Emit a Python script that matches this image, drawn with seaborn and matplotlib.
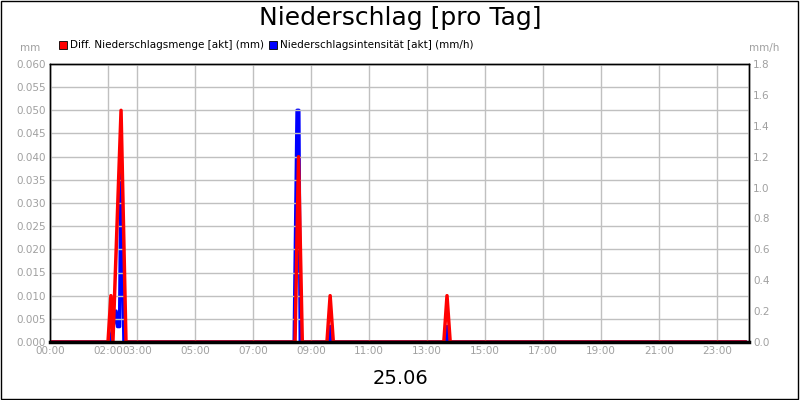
import matplotlib
matplotlib.use("Agg")
import matplotlib.pyplot as plt
import seaborn as sns
import pandas as pd
from matplotlib.patches import Rectangle

sns.set_style("white")
plt.rcParams['font.family'] = ['DejaVu Sans']
plt.rcParams['text.color'] = 'black'

# Data (time in hours of day)
red_t = [0, 2.0, 2.1, 2.17, 2.45, 2.62, 8.45, 8.57, 8.7, 9.55, 9.66, 9.77, 13.58, 13.69, 13.8, 24]
red_v = [0, 0, 0.010, 0, 0.050, 0, 0, 0.040, 0, 0, 0.010, 0, 0, 0.010, 0, 0]
blue_t = [0, 2.07, 2.28, 2.33, 2.4, 2.45, 2.55, 8.42, 8.52, 8.58, 8.63, 9.6, 9.66, 9.72, 13.63, 13.69, 13.75, 24]
blue_v = [0, 0, 0.2, 0.1, 0.1, 1.2, 0, 0, 1.5, 1.5, 0, 0, 0.1, 0, 0, 0.1, 0, 0]
tick_hours = [0, 2, 3, 5, 7, 9, 11, 13, 15, 17, 19, 21, 23]
tick_labels = ["00:00", "02:00", "03:00", "05:00", "07:00", "09:00", "11:00",
               "13:00", "15:00", "17:00", "19:00", "21:00", "23:00"]

fig = plt.figure(figsize=(8, 4), dpi=100)
fig.patches.append(Rectangle((0.001, 0.002), 0.997, 0.996, transform=fig.transFigure,
                             fill=False, edgecolor='black', linewidth=1))
ax = fig.add_axes([50/800, 1-342/400, 699/800, 278/400])
ax2 = ax.twinx()

sns.lineplot(x=blue_t, y=blue_v, ax=ax2, color='#0000ff', linewidth=2.5)
sns.lineplot(x=red_t, y=red_v, ax=ax, color='#ff0000', linewidth=2.5)
ax.set_zorder(ax2.get_zorder() + 1)
ax.patch.set_visible(False)

xmax = 699/29
for a in (ax, ax2):
    a.set_xlim(0, xmax)
ax.set_ylim(0, 0.060)
ax2.set_ylim(0, 1.8)
ax.set_yticks([i*0.005 for i in range(13)])
ax.set_yticklabels([f"{i*0.005:.3f}" for i in range(13)])
ax2.set_yticks([i*0.2 for i in range(10)])
ax2.set_yticklabels([f"{i*0.2:.1f}" for i in range(10)])
ax.set_xticks(tick_hours)
ax.set_xticklabels(tick_labels)
ax.grid(True, color='#c0c0c0', linewidth=1)
for a in (ax, ax2):
    a.tick_params(labelsize=7.5, labelcolor='#a0a0a0', length=0, pad=3)
    for s in a.spines.values():
        s.set_color('black'); s.set_linewidth(1); s.set_zorder(10)
ax.spines['bottom'].set_linewidth(2.5)
ax.set_xlabel(""); ax.set_ylabel(""); ax2.set_ylabel("")

fig.text(0.5, 1-18/400, "Niederschlag [pro Tag]", ha='center', va='center', fontsize=18, color='black')
fig.text(40/800, 1-48/400, "mm", ha='right', va='center', fontsize=7.5, color='#a0a0a0')
fig.text(779/800, 1-48/400, "mm/h", ha='right', va='center', fontsize=7.5, color='#a0a0a0')
fig.patches.append(Rectangle((59/800, 1-49/400), 8/800, 8/400, transform=fig.transFigure,
                             facecolor='#ff0000', edgecolor='black', linewidth=0.6))
fig.text(70/800, 1-45/400, "Diff. Niederschlagsmenge [akt] (mm)", va='center', fontsize=7.5, color='black')
fig.patches.append(Rectangle((269/800, 1-49/400), 8/800, 8/400, transform=fig.transFigure,
                             facecolor='#0000ff', edgecolor='black', linewidth=0.6))
fig.text(280/800, 1-45/400, "Niederschlagsintensität [akt] (mm/h)", va='center', fontsize=7.5, color='black')
fig.text(0.5, 1-379/400, "25.06", ha='center', va='center', fontsize=14, color='black')

fig.savefig("out.png", dpi=100)
